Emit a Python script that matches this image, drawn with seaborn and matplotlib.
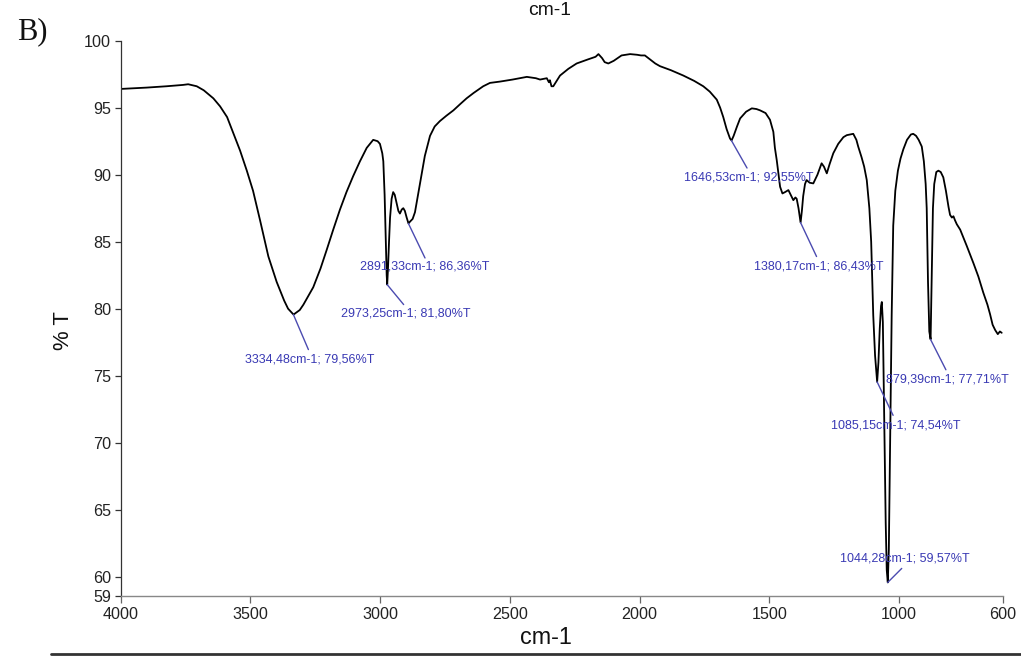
import numpy as np
import pandas as pd
import matplotlib
matplotlib.use("Agg")
import matplotlib.pyplot as plt
from matplotlib import font_manager as fm
from matplotlib.lines import Line2D
import seaborn as sns

# ---------------- data ----------------
WAVENUMBER = [4000, 3950, 3900, 3823, 3760, 3740, 3707, 3680, 3643, 3617, 3590, 3566, 3540, 3514,
              3490, 3463, 3431, 3399, 3370, 3355, 3334, 3310, 3296, 3258, 3230, 3206, 3181, 3155,
              3130, 3104, 3078, 3052, 3027, 3010, 3001, 2992, 2988, 2983, 2979, 2975, 2973, 2970,
              2966, 2962, 2956, 2950, 2944, 2937, 2930, 2924, 2917, 2911, 2905, 2898, 2891, 2885,
              2875, 2866, 2857, 2847, 2828, 2808, 2790, 2770, 2745, 2718, 2690, 2667, 2640, 2603,
              2577, 2538, 2490, 2435, 2400, 2384, 2370, 2358, 2350, 2346, 2340, 2333, 2320, 2307,
              2275, 2243, 2200, 2170, 2159, 2145, 2135, 2121, 2100, 2070, 2037, 2010, 1995, 1980,
              1960, 1940, 1922, 1880, 1832, 1790, 1755, 1730, 1703, 1690, 1678, 1665, 1652, 1646,
              1638, 1625, 1613, 1590, 1568, 1550, 1536, 1515, 1498, 1485, 1479, 1472, 1465, 1459,
              1450, 1440, 1427, 1418, 1408, 1400, 1395, 1388, 1380, 1375, 1370, 1363, 1357, 1345,
              1331, 1315, 1299, 1290, 1279, 1268, 1254, 1235, 1215, 1202, 1190, 1177, 1165, 1158,
              1145, 1135, 1125, 1115, 1108, 1100, 1093, 1085, 1080, 1075, 1070, 1067, 1063, 1058,
              1052, 1048, 1044, 1040, 1035, 1029, 1023, 1015, 1005, 995, 984, 970, 955, 946,
              935, 925, 913, 905, 898, 894, 889, 884, 879, 875, 870, 865, 857, 849,
              840, 830, 820, 810, 804, 797, 791, 785, 778, 765, 740, 714, 695, 676,
              660, 650, 640, 630, 620, 612, 605]
TRANSMITTANCE = [96.4, 96.45, 96.5, 96.6, 96.7, 96.75, 96.6, 96.3, 95.7, 95.1, 94.3, 93.1, 91.8, 90.3,
                 88.8, 86.6, 83.9, 82.0, 80.6, 80.0, 79.56, 79.9, 80.3, 81.6, 83.0, 84.4, 85.9, 87.4,
                 88.7, 89.9, 91.0, 92.0, 92.6, 92.5, 92.3, 91.6, 91.0, 88.5, 85.5, 82.5, 81.8, 83.0,
                 85.0, 86.8, 88.2, 88.7, 88.5, 87.9, 87.3, 87.1, 87.4, 87.5, 87.3, 86.8, 86.36, 86.5,
                 86.7, 87.2, 88.2, 89.3, 91.4, 92.9, 93.6, 94.0, 94.4, 94.8, 95.3, 95.7, 96.1, 96.6,
                 96.85, 96.95, 97.1, 97.3, 97.2, 97.1, 97.15, 97.2, 96.9, 97.05, 96.6, 96.6, 97.0, 97.4,
                 97.9, 98.3, 98.6, 98.8, 99.0, 98.7, 98.4, 98.3, 98.5, 98.9, 99.0, 98.95, 98.9, 98.9,
                 98.6, 98.3, 98.1, 97.8, 97.4, 97.0, 96.6, 96.2, 95.6, 95.0, 94.3, 93.4, 92.7, 92.55,
                 92.9, 93.6, 94.2, 94.7, 94.95, 94.9, 94.8, 94.6, 94.1, 93.2, 92.0, 91.1, 90.0, 89.1,
                 88.6, 88.7, 88.85, 88.5, 88.1, 88.3, 88.2, 87.5, 86.43, 87.3, 88.4, 89.3, 89.6, 89.4,
                 89.35, 90.0, 90.85, 90.6, 90.1, 90.8, 91.6, 92.3, 92.8, 92.95, 93.0, 93.05, 92.6, 92.1,
                 91.3, 90.6, 89.6, 87.5, 85.0, 79.5, 76.5, 74.54, 76.0, 78.5, 80.2, 80.5, 79.0, 72.0,
                 64.0, 60.5, 59.57, 62.0, 70.0, 79.5, 86.2, 88.8, 90.3, 91.2, 91.9, 92.6, 93.0, 93.05,
                 92.9, 92.6, 92.1, 91.0, 89.3, 87.5, 82.0, 78.3, 77.71, 82.0, 87.5, 89.3, 90.2, 90.3,
                 90.2, 89.8, 88.8, 87.6, 87.0, 86.8, 86.9, 86.6, 86.3, 85.9, 84.7, 83.4, 82.4, 81.2,
                 80.3, 79.6, 78.8, 78.4, 78.1, 78.3, 78.2]

PEAK_WN = [3334.48, 2973.25, 2891.33, 1646.53, 1380.17, 1085.15, 879.39, 1044.28]
PEAK_T = [79.56, 81.80, 86.36, 92.55, 86.43, 74.54, 77.71, 59.57]

X_TICKS = [4000, 3500, 3000, 2500, 2000, 1500, 1000, 600]
X_TICK_LABELS = ["4000", "3500", "3000", "2500", "2000", "1500", "1000", "600"]
Y_MIN = 58.58
Y_TICKS = [Y_MIN, 60, 65, 70, 75, 80, 85, 90, 95, 100]
Y_TICK_LABELS = ["59", "60", "65", "70", "75", "80", "85", "90", "95", "100"]

X_LABEL = "cm-1"
Y_LABEL = "% T"
PANEL_LABEL = "B)"

# -------------- layout (pixel offsets: line end, text centre) --------------
LINE_OFFS = [(15, -35), (16.5, -20), (16.6, -34.5), (15.6, -27.5), (16, -34), (16, -33.5), (15.4, -30.4), (14, 14)]
TEXT_OFFS = [(16, -45), (18.5, -29), (16, -43), (17.3, -36.5), (18.5, -44), (18.7, -43.5), (17, -40.4), (17, 24)]

# ---------------- style ----------------
sns.set_style("ticks")
names = {f.name for f in fm.fontManager.ttflist}
narrow = "Liberation Sans Narrow" in names
sans = "Liberation Sans Narrow" if narrow else "Liberation Sans"
k = 1.0 if narrow else 0.84
plt.rcParams["font.family"] = [sans, "DejaVu Sans"]

W, H = 1021, 657
fig = plt.figure(figsize=(W / 100, H / 100), dpi=100)
ax = fig.add_axes([120.7 / W, 1 - 595.7 / H, (1003 - 120.7) / W, (595.7 - 40.7) / H])

df = pd.DataFrame({"wn": WAVENUMBER, "T": TRANSMITTANCE})
sns.lineplot(data=df, x="wn", y="T", color="black", linewidth=1.3, ax=ax, estimator=None)

ax.set_xlim(4000, 600)
ax.set_ylim(Y_MIN, 100)
ax.set_xticks(X_TICKS)
ax.set_xticklabels(X_TICK_LABELS)
ax.set_yticks(Y_TICKS)
ax.set_yticklabels(Y_TICK_LABELS)
ax.tick_params(axis="both", labelsize=13.8 * k, colors="#333333", length=4, width=0.9, pad=3)
ax.tick_params(axis="x", length=5, colors="#666666", labelcolor="#222222")
ax.tick_params(axis="y", labelcolor="#222222")

for s in ["top", "right"]:
    ax.spines[s].set_visible(False)
ax.spines["left"].set_color("#333333")
ax.spines["left"].set_linewidth(0.9)
ax.spines["bottom"].set_color("#888888")
ax.spines["bottom"].set_linewidth(1.0)

ax.set_xlabel(X_LABEL, fontsize=20 * k, color="#111111")
ax.xaxis.set_label_coords((546 - 120.7) / (1003 - 120.7), -(626 - 595.7) / 555)
ax.set_ylabel(Y_LABEL, fontsize=19 * k, color="#111111")
ax.yaxis.set_label_coords((74 - 120.7) / (1003 - 120.7), (595.7 - 331) / 555)

blue_txt = "#3a3ab4"
blue_line = "#4b4bb0"
for wn, t, lo, to in zip(PEAK_WN, PEAK_T, LINE_OFFS, TEXT_OFFS):
    label = f"{wn:.2f}".replace(".", ",") + "cm-1; " + f"{t:.2f}".replace(".", ",") + "%T"
    ax.annotate("", xy=(wn, t), xytext=lo, textcoords="offset pixels",
                arrowprops=dict(arrowstyle="-", color=blue_line, lw=1.0, shrinkA=0, shrinkB=0))
    ax.annotate(label, xy=(wn, t), xytext=to, textcoords="offset pixels",
                ha="center", va="center", fontsize=10.7 * k, color=blue_txt)

# panel label and cropped duplicate title
fig.text(17 / W, 1 - 39 / H, PANEL_LABEL, fontsize=22, family=["Liberation Serif", "DejaVu Serif"],
         color="#111111", va="baseline", ha="left")
fig.text(550 / W, 1 - 15 / H, X_LABEL, fontsize=16.5 * k, color="#111111", ha="center", va="baseline")
fig.add_artist(Line2D([0.05, 1.0], [1 - 654 / H, 1 - 654 / H], transform=fig.transFigure,
                      color="#333333", linewidth=2))

fig.savefig("out.png", dpi=100)
